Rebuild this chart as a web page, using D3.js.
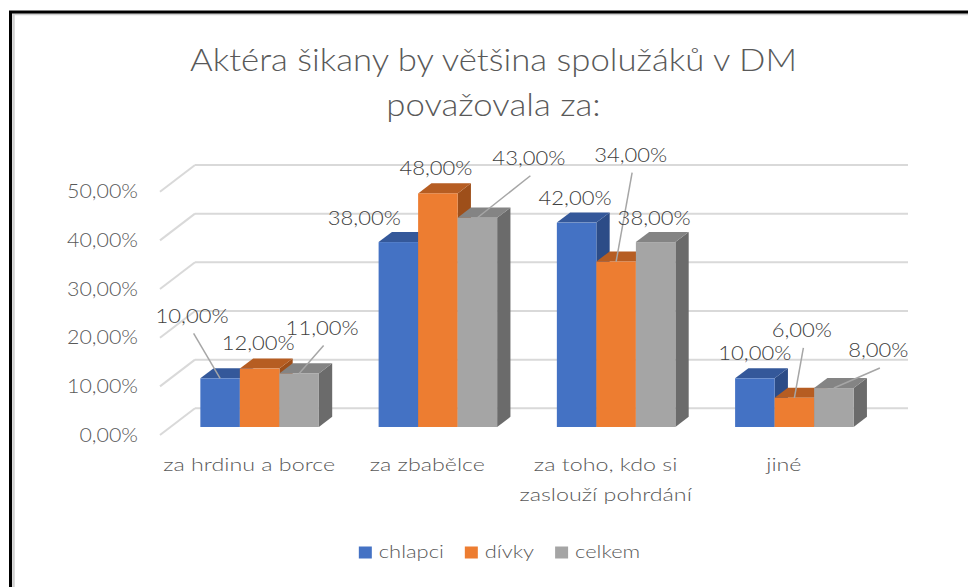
<!DOCTYPE html>
<html><head><meta charset="utf-8">
<script src="https://cdn.jsdelivr.net/npm/d3@7"></script>
<style>body{margin:0;background:#fff;overflow:hidden} text{font-family:Lato,"Open Sans",sans-serif;font-weight:300;}</style>
</head><body><svg id="c" width="968" height="587"></svg>
<script>
// ---------------- data ----------------
const titleLines = ["Aktéra šikany by většina spolužáků v DM", "považovala za:"];
const categories = ["za hrdinu a borce", "za zbabělce", "za toho, kdo si zaslouží pohrdání", "jiné"];
const seriesNames = ["chlapci", "dívky", "celkem"];
const chlapci = [0.10, 0.38, 0.42, 0.10];
const divky   = [0.12, 0.48, 0.34, 0.06];
const celkem  = [0.11, 0.43, 0.38, 0.08];
const yTicks  = [0, 0.1, 0.2, 0.3, 0.4, 0.5];

// ---------------- styles / layout ----------------
const seriesValues = [chlapci, divky, celkem];
const frontColors = ["#4472C4", "#ED7D31", "#A5A5A5"];
const topColors   = ["#34589A", "#B65D22", "#848484"];
const sideColors  = ["#2C4C87", "#9E4F1A", "#6B6B6B"];
// data-label offsets (px) from each bar's front-top centre; third item = leader line
const labelOffsets = [
  [[-28, -63, true], [-34, -24, false], [-1.5, -25, false], [0, -26, false]],
  [[-1.5, -26, false], [-2, -26, false], [14.5, -107, true], [7.5, -68, true]],
  [[23, -46, true], [51.5, -60, true], [-1.5, -24, false], [44.5, -38, true]]
];

const svg = d3.select("#c");
const locale = d3.formatLocale({decimal: ",", thousands: " ", grouping: [3], currency: ["", " Kč"]});
const fmt = locale.format(".2%");

// frame
const front = {x0: 160, x1: 873, y0: 435, y1: 191.7};
const D = {x: 35, y: -26.7};          // full depth vector
const f1 = 0.30, f2 = 0.68;            // bar front / back depth fractions

const y = d3.scaleLinear().domain([0, 0.5]).range([front.y0, front.y1]);
const x0 = d3.scaleBand().domain(categories).range([front.x0, front.x1]).paddingInner(0.335).paddingOuter(0.1675);
const x1 = d3.scaleBand().domain(seriesNames).range([0, x0.bandwidth()]);

function measure(str, size) {
  const t = svg.append("text").attr("font-size", size).text(str);
  const w = t.node().getComputedTextLength(); t.remove(); return w;
}
function stretch(sel, k) {
  sel.each(function () {
    const w = this.getComputedTextLength();
    d3.select(this).attr("textLength", w * k).attr("lengthAdjust", "spacingAndGlyphs");
  });
}

// border
svg.append("path").attr("d", "M13.5,600 V14 H980").attr("fill", "none").attr("stroke", "#d0d0d0").attr("stroke-width", 2.5);
svg.append("path").attr("d", "M10.5,600 V12 H980").attr("fill", "none").attr("stroke", "#000").attr("stroke-width", 3);

// title
const titleSize = 31;
const kTitle = 607 / measure(titleLines[0], titleSize);
const title = svg.append("g").selectAll("text").data(titleLines).join("text")
  .attr("x", 493.5).attr("y", (d, i) => 70.7 + i * 45)
  .attr("text-anchor", "middle").attr("font-size", titleSize).attr("fill", "#595959")
  .text(d => d);
stretch(title, kTitle);

// gridlines: side wall + back wall
const grid = svg.append("g").attr("stroke", "#d9d9d9").attr("stroke-width", 2).attr("fill", "none");
grid.selectAll("line.side").data(yTicks).join("line").attr("class", "side")
  .attr("x1", front.x0).attr("y1", d => y(d))
  .attr("x2", front.x0 + D.x).attr("y2", d => y(d) + D.y);
grid.selectAll("line.back").data(yTicks).join("line").attr("class", "back")
  .attr("x1", front.x0 + D.x).attr("y1", d => y(d) + D.y)
  .attr("x2", front.x1 + D.x).attr("y2", d => y(d) + D.y);

// y axis labels
const axisSize = 19.5;
const kAxis = 71 / measure("50,00%", axisSize);
const yAxis = svg.append("g").attr("transform", `translate(${front.x0},0)`)
  .call(d3.axisLeft(y).tickValues(yTicks).tickSize(0).tickPadding(22).tickFormat(fmt));
yAxis.select(".domain").remove();
yAxis.selectAll("text").attr("font-size", axisSize).attr("fill", "#595959")
  .style("font-family", "Lato").style("font-weight", 300);
stretch(yAxis.selectAll("text"), kAxis);

// bars
const bars = [];
categories.forEach((c, ci) => {
  seriesNames.forEach((s, si) => {
    const v = seriesValues[si][ci];
    const xl = x0(c) + x1(s) + f1 * D.x;
    const w = x1.bandwidth();
    const yb = y(0) + f1 * D.y;
    const yt = y(v) + f1 * D.y;
    bars.push({c, ci, s, si, v, xl, w, yb, yt});
  });
});
const dd = {x: (f2 - f1) * D.x, y: (f2 - f1) * D.y};
const gBars = svg.append("g");
bars.forEach(b => {
  const g = gBars.append("g");
  g.append("path").attr("fill", sideColors[b.si])
    .attr("d", `M${b.xl + b.w},${b.yb} L${b.xl + b.w + dd.x},${b.yb + dd.y} L${b.xl + b.w + dd.x},${b.yt + dd.y} L${b.xl + b.w},${b.yt} Z`);
  g.append("path").attr("fill", topColors[b.si])
    .attr("d", `M${b.xl},${b.yt} L${b.xl + dd.x},${b.yt + dd.y} L${b.xl + b.w + dd.x},${b.yt + dd.y} L${b.xl + b.w},${b.yt} Z`);
  g.append("rect").attr("fill", frontColors[b.si])
    .attr("x", b.xl).attr("y", b.yt).attr("width", b.w).attr("height", b.yb - b.yt);
});

// data labels + leader lines
const labSize = 20;
const kLab = 73 / measure("10,00%", labSize);
const gLab = svg.append("g");
bars.forEach(b => {
  const [ox, oy, leader] = labelOffsets[b.si][b.ci];
  const ax = b.xl + b.w / 2, ay = b.yt;
  const lx = ax + ox, ly = ay + oy;
  if (leader) {
    gLab.append("line").attr("x1", lx + 1.5).attr("y1", ly + 18).attr("x2", ax).attr("y2", ay)
      .attr("stroke", "#a6a6a6").attr("stroke-width", 1.5);
  }
  const t = gLab.append("text").attr("x", lx).attr("y", ly).attr("dy", "0.36em")
    .attr("text-anchor", "middle").attr("font-size", labSize).attr("fill", "#404040")
    .text(fmt(b.v));
  stretch(t, kLab);
});

// category labels
const catSize = 18;
const kCat = 172 / measure(categories[0], catSize);
const gCat = svg.append("g");
categories.forEach(c => {
  const words = c.split(" ");
  const lines = []; let cur = "";
  words.forEach(wd => {
    const test = cur ? cur + " " + wd : wd;
    if (cur && measure(test, catSize) * kCat > x0.step()) { lines.push(cur); cur = wd; } else cur = test;
  });
  lines.push(cur);
  const cx = x0(c) + x0.bandwidth() / 2;
  lines.forEach((ln, i) => {
    const t = gCat.append("text").attr("x", cx).attr("y", 470.7 + i * 30)
      .attr("text-anchor", "middle").attr("font-size", catSize).attr("fill", "#595959").text(ln);
    stretch(t, kCat);
  });
});

// legend
const legSize = 18.5;
const kLeg = 65 / measure("chlapci", legSize);
const sq = 13, gapT = 7, gapI = 21;
const widths = seriesNames.map(s => measure(s, legSize) * kLeg);
const total = d3.sum(widths) + seriesNames.length * (sq + gapT) + (seriesNames.length - 1) * gapI;
let lx = 499.5 - total / 2;
const gLeg = svg.append("g");
seriesNames.forEach((s, i) => {
  gLeg.append("rect").attr("x", lx).attr("y", 546.5).attr("width", sq).attr("height", 12).attr("fill", frontColors[i]);
  const t = gLeg.append("text").attr("x", lx + sq + gapT).attr("y", 558.3)
    .attr("font-size", legSize).attr("fill", "#595959").text(s);
  stretch(t, kLeg);
  lx += sq + gapT + widths[i] + gapI;
});
</script>
</body></html>
